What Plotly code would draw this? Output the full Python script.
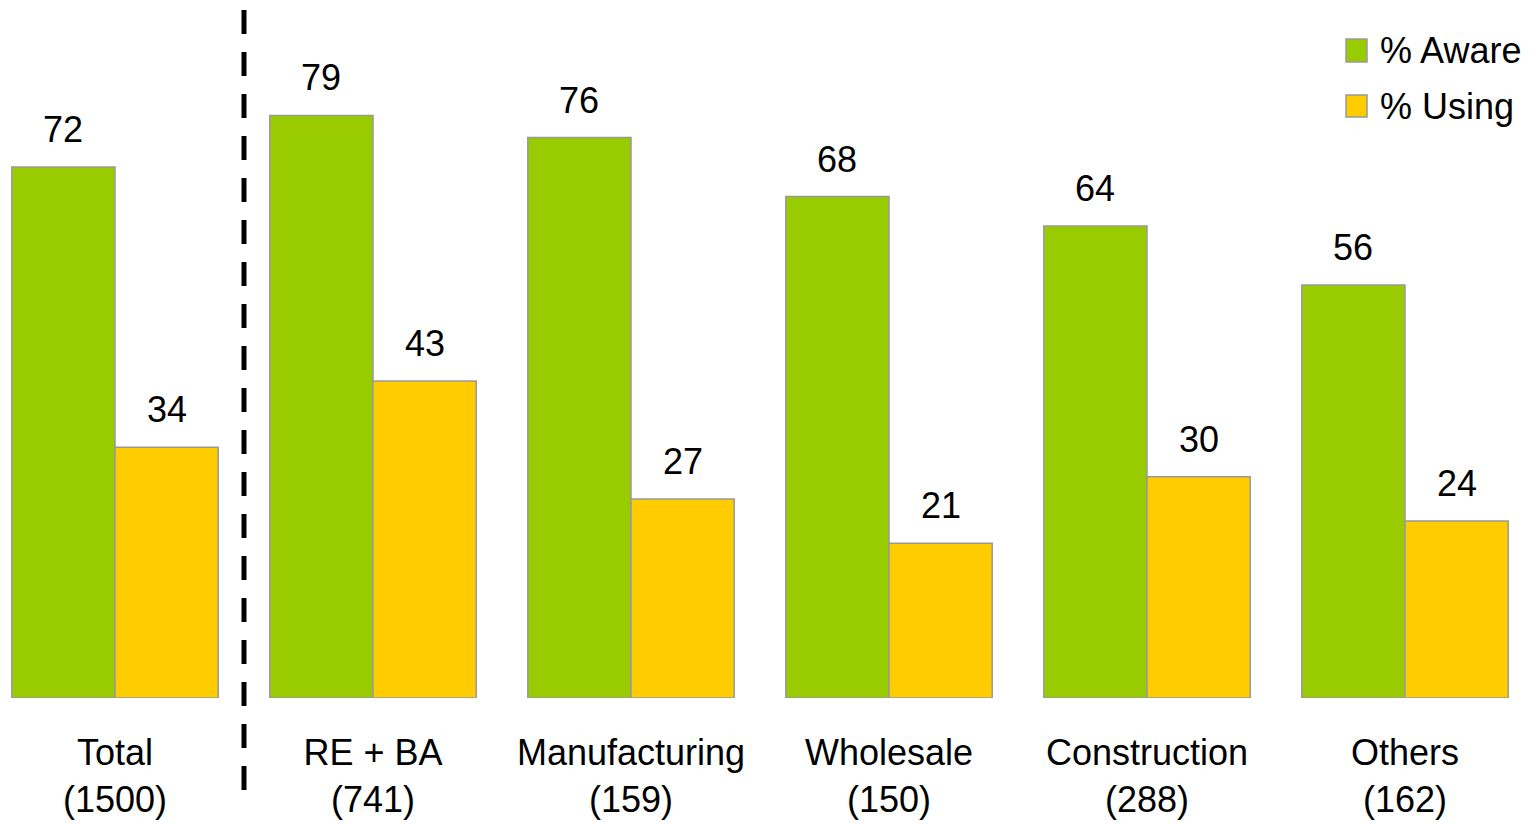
import plotly.graph_objects as go

# Survey segments with sample sizes
segments = ["Total", "RE + BA", "Manufacturing", "Wholesale", "Construction", "Others"]
sample_sizes = [1500, 741, 159, 150, 288, 162]
aware = [72, 79, 76, 68, 64, 56]
using = [34, 43, 27, 21, 30, 24]

GREEN = "#99CC00"
YELLOW = "#FFCC00"
OUTLINE = "#999999"
FONT = "Liberation Sans, Arial, sans-serif"

W, H = 1538, 824
PLOT_H = 698  # pixel height of the plotting area (bottom margin below)

x = list(range(len(segments)))
ticktext = [f"{s}<br>({n})" for s, n in zip(segments, sample_sizes)]

fig = go.Figure()
fig.add_trace(go.Bar(x=x, y=aware, name="% Aware", marker=dict(color=GREEN, line=dict(color=OUTLINE, width=1.5)), showlegend=False))
fig.add_trace(go.Bar(x=x, y=using, name="% Using", marker=dict(color=YELLOW, line=dict(color=OUTLINE, width=1.5)), showlegend=False))

# Value labels above each bar
half = 0.2  # offset of each bar centre from group centre (bar width 0.4)
for i in x:
    for val, dx in ((aware[i], -half), (using[i], half)):
        fig.add_annotation(x=i + dx, y=val, text=str(val), showarrow=False,
                           yanchor="bottom", yshift=15,
                           font=dict(family=FONT, size=36, color="black"))

# Divider between the total and the individual segments
fig.add_shape(type="line", xref="x", yref="paper", x0=0.5, x1=0.5,
              y0=(PLOT_H - 10) / PLOT_H, y1=(PLOT_H - 797) / PLOT_H,
              line=dict(color="black", width=5, dash="24px,18px"))

# Legend drawn as squares + labels
legend_items = [("% Aware", GREEN, 39, 62), ("% Using", YELLOW, 95, 117)]
for label, color, top, bot in legend_items:
    fig.add_shape(type="rect", xref="paper", yref="paper",
                  x0=1346 / W, x1=1367 / W,
                  y0=(PLOT_H - top) / PLOT_H, y1=(PLOT_H - bot) / PLOT_H,
                  fillcolor=color, line=dict(color=OUTLINE, width=1.5))
    fig.add_annotation(xref="paper", yref="paper", x=1378 / W,
                       y=(PLOT_H - (top + bot) / 2) / PLOT_H,
                       xanchor="left", yanchor="middle", text=label, showarrow=False,
                       font=dict(family=FONT, size=36, color="black"))

fig.update_layout(
    width=W, height=H,
    margin=dict(l=0, r=0, t=0, b=H - PLOT_H),
    paper_bgcolor="white", plot_bgcolor="white",
    barmode="group", bargap=0.2, bargroupgap=0,
    showlegend=False,
    font=dict(family=FONT, size=36, color="black"),
    xaxis=dict(range=[-115 / 258, (W - 115) / 258], tickmode="array", tickvals=x,
               ticktext=ticktext, showgrid=False, zeroline=False, showline=False,
               ticks="", ticklabelstandoff=30, tickfont=dict(size=36, color="black")),
    yaxis=dict(range=[0, PLOT_H / 7.375], visible=False, showgrid=False),
)

fig.write_html("out.html")
